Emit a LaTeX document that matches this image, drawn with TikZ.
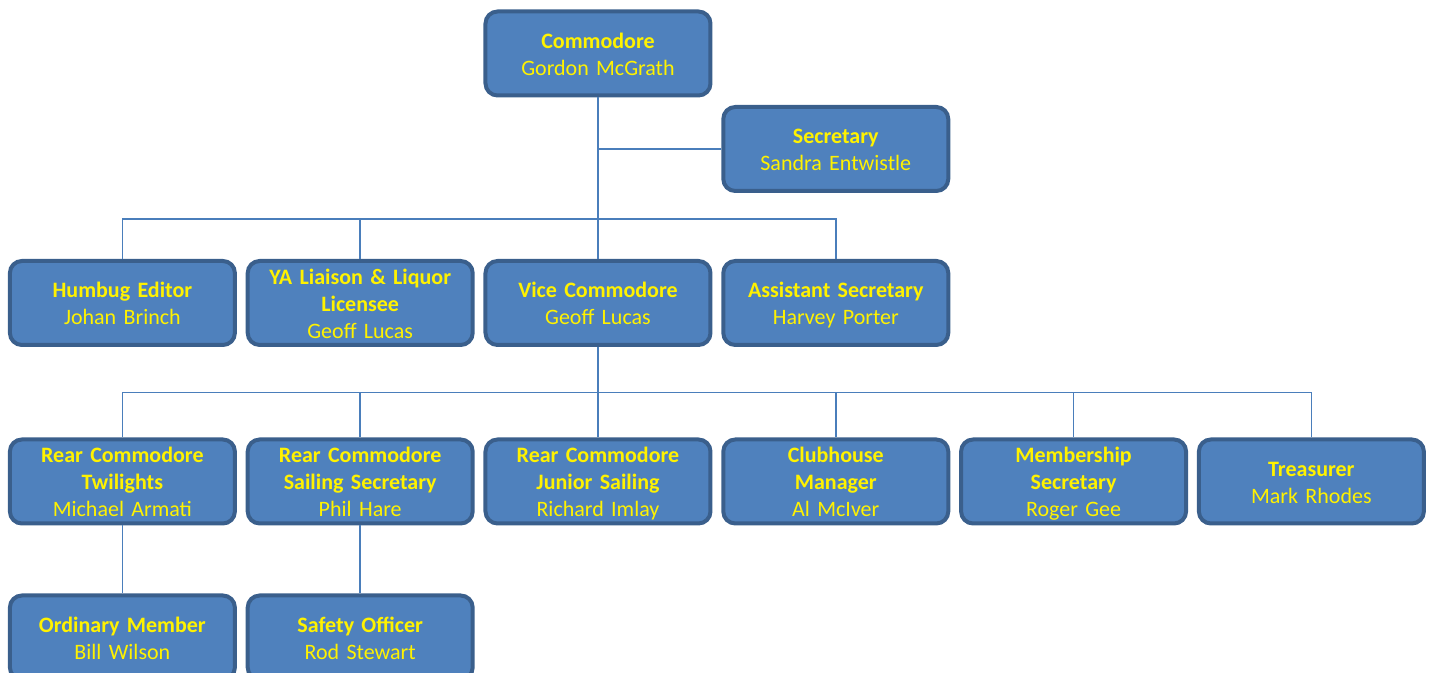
\documentclass[tikz,border=0pt]{standalone}
\usepackage{fontspec}
\setmainfont{Carlito}
\usetikzlibrary{matrix,calc}

\definecolor{boxblue}{HTML}{4F81BD}
\definecolor{boxedge}{HTML}{3A5F8C}
\definecolor{linkblue}{HTML}{4A7EBB}
\setlength{\parindent}{0pt}
\newcommand{\post}[2]{{\bfseries\rule{0pt}{11pt}#1\par}#2\rule[-2.5pt]{0pt}{2.5pt}}

\begin{document}
\begin{tikzpicture}[
x=0.5pt,
y=-0.5pt,
plain/.style={
  draw=none,
  fill=none,
  },
chart/.style={
  matrix of nodes,
  nodes={
    draw=boxedge,
    fill=boxblue,
    line width=2pt,
    rounded corners=6pt,
    text=yellow,
    font=\fontsize{11}{13.5}\selectfont,
    text width=111pt,
    align=center,
    minimum width=112.5pt,
    minimum height=42pt,
    inner sep=0pt,
    anchor=center
    },
  nodes in empty cells,
  column sep=4.4pt,
  row sep=0pt
  },
link/.style={
  draw=linkblue,
  line width=0.75pt
  }
]
\matrix[chart] (mat)
{
|[plain]| & |[plain]| & \post{Commodore}{Gordon McGrath} & |[plain]| & |[plain]| & |[plain]| \\[3.75pt]
|[plain]| & |[plain]| & |[plain]| & \post{Secretary}{Sandra Entwistle} & |[plain]| & |[plain]| \\[33pt]
\post{Humbug Editor}{Johan Brinch} & \post{YA Liaison \& Liquor\par Licensee}{Geoff Lucas} & \post{Vice Commodore}{Geoff Lucas} & \post{Assistant Secretary}{Harvey Porter} & |[plain]| & |[plain]| \\[45.25pt]
\post{Rear Commodore\par Twilights}{Michael Armati} & \post{Rear Commodore\par Sailing Secretary}{Phil Hare} & \post{Rear Commodore\par Junior Sailing}{Richard Imlay} & \post{Clubhouse\par Manager}{Al McIver} & \post{Membership\par Secretary}{Roger Gee} & \post{Treasurer}{Mark Rhodes} \\[34pt]
\post{Ordinary Member}{Bill Wilson} & \post{Safety Officer}{Rod Stewart} & |[plain]| & |[plain]| & |[plain]| & |[plain]| \\
};
\draw[link] (mat-2-4.west) -| (mat-1-3.south);
\foreach \c in {1,2,3,4}
  \draw[link] (mat-3-\c.north) -- ++(0,-40) -| (mat-1-3.south);
\foreach \c in {1,...,6}
  \draw[link] (mat-4-\c.north) -- ++(0,-45) -| (mat-3-3.south);
\foreach \c in {1,2}
  \draw[link] (mat-4-\c.south) -- (mat-5-\c.north);
\pgfresetboundingbox
\useasboundingbox ($(mat-1-3.center)+(-598,-53.5)$) rectangle ++(1434,673);
\end{tikzpicture}
\end{document}
